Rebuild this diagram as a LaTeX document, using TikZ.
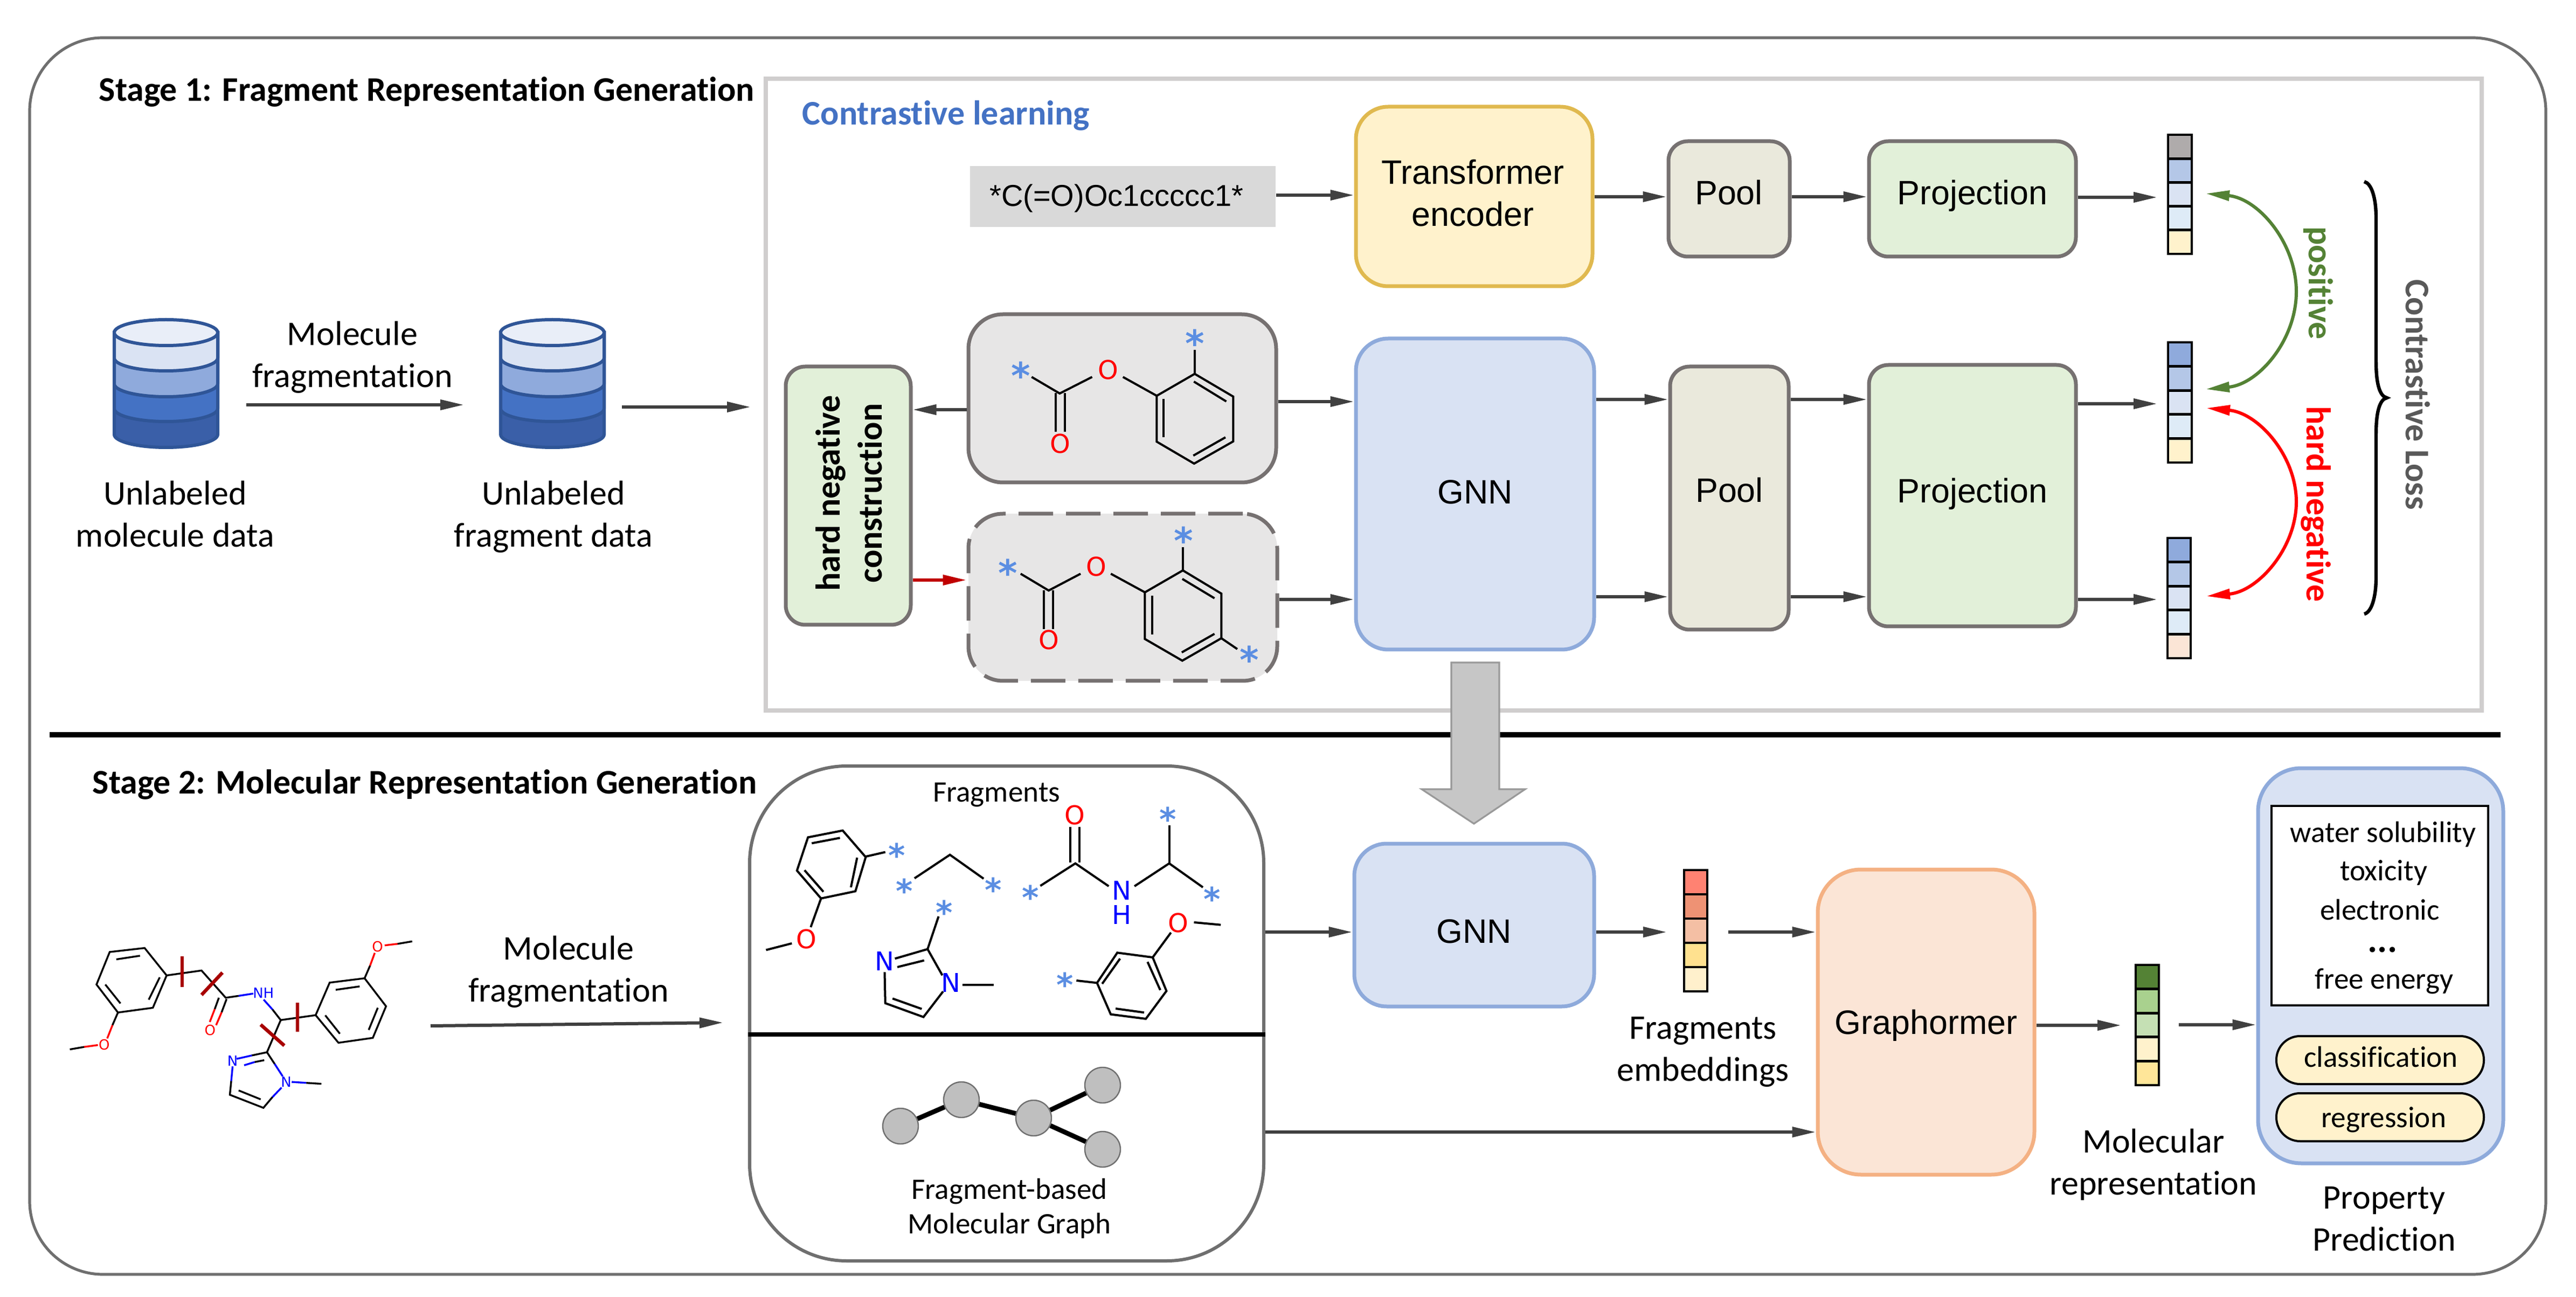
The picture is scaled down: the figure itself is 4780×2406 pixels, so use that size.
\documentclass[tikz,border=0pt]{standalone}
\usepackage{fontspec}
\setmainfont[Ligatures=CommonOff]{Carlito}
\newfontfamily\molfont{DejaVu Sans}
\newfontfamily\helv{Liberation Sans}
\usetikzlibrary{arrows.meta}
\definecolor{frameg}{HTML}{6F6F6F}
\definecolor{clbox}{HTML}{D0CECE}
\definecolor{boxg}{HTML}{767171}
\definecolor{fillg}{HTML}{E7E6E6}
\definecolor{smg}{HTML}{D9D9D9}
\definecolor{arrg}{HTML}{404040}
\definecolor{darkr}{HTML}{C00000}
\definecolor{starblue}{HTML}{5B8EE2}
\definecolor{cutred}{HTML}{A80000}
\definecolor{clblue}{HTML}{4472C4}
\definecolor{pgreen}{HTML}{548235}
\definecolor{lossg}{HTML}{595959}
\definecolor{cylline}{HTML}{2F5597}
\definecolor{E0B94F}{HTML}{E0B94F}\definecolor{FFF2CC}{HTML}{FFF2CC}
\definecolor{EAE8DA}{HTML}{EAE9DC}\definecolor{E2F0D9}{HTML}{E2F0D9}
\definecolor{8EAADB}{HTML}{8EAADB}\definecolor{D9E2F3}{HTML}{D9E2F3}
\definecolor{F4B183}{HTML}{F4B183}\definecolor{FBE5D6}{HTML}{FBE5D6}
\definecolor{BFBFBF}{HTML}{BFBFBF}\definecolor{AFABAB}{HTML}{AFABAB}
\definecolor{B4C7E7}{HTML}{B4C7E7}\definecolor{DAE3F3}{HTML}{DAE3F3}
\definecolor{DEEBF7}{HTML}{DEEBF7}\definecolor{8FAADC}{HTML}{8FAADC}
\definecolor{548235}{HTML}{548235}\definecolor{A9D18E}{HTML}{A9D18E}
\definecolor{C5E0B4}{HTML}{C5E0B4}\definecolor{FFE699}{HTML}{FFE699}
\definecolor{fr1}{HTML}{FF8272}\definecolor{fr2}{HTML}{EE9274}
\definecolor{fr3}{HTML}{F4BFA4}\definecolor{fr4}{HTML}{FFE18F}\definecolor{fr5}{HTML}{FFF0CC}
\definecolor{E9EEF8}{HTML}{E9EEF8}\definecolor{4472C4}{HTML}{4472C4}
\definecolor{3A5FA8}{HTML}{3A5FA8}
\newcounter{ac}
\tikzset{
  txt/.style={font=\fontsize{16}{19.5}\selectfont,align=center,inner sep=0pt,text=black},
  small/.style={font=\fontsize{13.8}{18}\selectfont,align=center,inner sep=0pt},
  head/.style={font=\bfseries\fontsize{16}{19}\selectfont,inner sep=0pt},
  btxt/.style={font=\bfseries\fontsize{16}{19.5}\selectfont,align=center,inner sep=0pt},
  arial/.style={font=\helv\fontsize{15.7}{19.5}\selectfont,align=center,inner sep=0pt},
  arr/.style={draw=arrg,line width=1.5pt,-{Triangle[length=11pt,width=4.6pt]}},
  redarr/.style={draw=darkr,line width=1.5pt,-{Triangle[length=11pt,width=4.6pt]}},
  carc/.style={line width=1.5pt,{Triangle[length=11pt,width=4.6pt]}-{Triangle[length=11pt,width=4.6pt]}},
  boxbase/.style={draw,line width=1.75pt,inner sep=0pt},
  transf/.style={boxbase,draw=E0B94F,fill=FFF2CC,rounded corners=15pt},
  poolb/.style={boxbase,draw=boxg,fill=EAE8DA,rounded corners=9pt},
  projb/.style={boxbase,draw=boxg,fill=E2F0D9,rounded corners=9pt},
  gnnb/.style={boxbase,draw=8EAADB,fill=D9E2F3,rounded corners=15pt},
  graphb/.style={boxbase,draw=F4B183,fill=FBE5D6,rounded corners=20pt},
  hardb/.style={boxbase,draw=boxg,fill=E2F0D9,rounded corners=9pt},
  molb/.style={boxbase,draw=boxg,fill=fillg,rounded corners=16pt},
  dashb/.style={molb,dash pattern=on 16pt off 6pt},
  bond/.style={line width=1pt,draw=black},
  rbond/.style={line width=1pt,draw=red},
  nbond/.style={line width=1pt,draw=blue},
  cut/.style={line width=1.6pt,draw=cutred},
  atom/.style={font=\molfont\fontsize{12}{12}\selectfont,inner sep=0pt},
  starn/.style={font=\molfont\bfseries\fontsize{17}{17}\selectfont,text=starblue,anchor=base,inner sep=0pt,yshift=-8.8pt},
  gdot/.style={circle,draw=frameg,fill=BFBFBF,line width=.6pt,minimum size=16.5pt,inner sep=0pt},
  pill/.style={draw=black,line width=1pt,fill=FFF2CC,rounded corners=11pt,inner sep=0pt},
}
% box: style, name, x1,y1,x2,y2, text
\newcommand\bx[7]{%
  \pgfmathsetmacro\bxw{(#5-#3)*0.25}\pgfmathsetmacro\bxh{(#6-#4)*0.25}%
  \pgfmathsetmacro\bxcx{(#5+#3)/2}\pgfmathsetmacro\bxcy{(#6+#4)/2}%
  \node[#1,minimum width=\bxw pt,minimum height=\bxh pt] (#2) at (\bxcx,\bxcy) {#7};}
\newcommand\atm[4]{\stepcounter{ac}\node[atom,text=#1] (at\theac) at (#2,#3) {#4};}
\newcommand\molstar[2]{\stepcounter{ac}\node[starn] (at\theac) at (#1,#2) {*};}
% vector: x1,y1,x2,y2, five colours (outer edges given)
\newcommand\vecbar[5]{%
  \pgfmathsetmacro\vh{(#4-#2-4)/5}%
  \foreach \c [count=\i from 0] in #5 {%
    \pgfmathsetmacro\ya{#2+2+\i*\vh}\pgfmathsetmacro\yb{#2+2+(\i+1)*\vh}%
    \draw[line width=1.2pt,black,fill=\c] (#1+2,\ya) rectangle (#3-2,\yb);}}
% cylinder
\newcommand\cyl[1]{%
  \foreach \yb/\c in {806/3A5FA8,758/4472C4,712/8FAADC,664/DAE3F3}{%
    \draw[line width=1.5pt,draw=cylline,fill=\c] (#1-96,617) -- (#1-96,\yb) arc[start angle=180,end angle=0,x radius=96,y radius=24] -- (#1+96,617) -- cycle;}%
  \draw[line width=1.5pt,draw=cylline,fill=E9EEF8] (#1,617) ellipse[x radius=96,y radius=24];}
\begin{document}
\begin{tikzpicture}[x=0.25pt,y=-0.25pt]
\useasboundingbox (0,0) rectangle (4780,2406);
\fill[white] (0,0) rectangle (4780,2406);
% frames
\draw[draw=frameg,line width=1.3pt,rounded corners=34pt] (55,70) rectangle (4724,2364);
\draw[draw=clbox,line width=2.2pt] (1421,146) rectangle (4605,1318);
\draw[black,line width=2.3pt] (92,1363) -- (4640,1363);
% headings
\node[head,anchor=west] (h1) at (183,170) {Stage 1: Fragment Representation Generation};
\node[head,anchor=west] (h2) at (171,1455) {Stage 2: Molecular Representation Generation};
\node[head,anchor=west,text=clblue] (h3) at (1488,214) {Contrastive learning};
% cylinders
\cyl{308}\cyl{1025}
\node[txt,anchor=base] (t1) at (325,1015) {Unlabeled\\molecule data};
\node[txt,anchor=base] (t2) at (1027,1015) {Unlabeled\\fragment data};
\node[txt] (t3) at (654,663) {Molecule\\fragmentation};
\coordinate (a1s) at (457,751);\coordinate (a1e) at (861,751);
\coordinate (a2s) at (1154,755);\coordinate (a2e) at (1393,755);
\draw[arr] (a1s) -- (a1e);
\draw[arr] (a2s) -- (a2e);
% upper boxes
\bx{fill=smg,inner sep=0pt}{smb}{1800}{308}{2367}{421}{}
\node[font=\helv\fontsize{14}{17}\selectfont,inner sep=0pt] (sm) at (2072,368) {*C(=O)Oc1ccccc1*};
\bx{transf}{tr}{2516}{198}{2955}{531}{}
\node[arial] (trt) at (2733,358) {Transformer\\encoder};
\bx{poolb}{p1}{3096}{262}{3321}{476}{}
\node[arial] (p1t) at (3208,357) {Pool};
\bx{projb}{pj1}{3468}{262}{3852}{476}{}
\node[arial] (pj1t) at (3660,363) {Projection};
\bx{gnnb}{g1}{2516}{628}{2958}{1205}{}
\node[arial] (g1t) at (2737,913) {GNN};
\bx{poolb}{p2}{3099}{680}{3319}{1168}{}
\node[arial] (p2t) at (3209,909) {Pool};
\bx{projb}{pj2}{3468}{677}{3852}{1162}{}
\node[arial] (pj2t) at (3660,916) {Projection};
\bx{hardb}{hn}{1458}{680}{1690}{1159}{}
\node[btxt,rotate=90] (hnt) at (1575,915) {hard negative\\construction};
\bx{molb}{m1}{1797}{583}{2368}{895}{}
\bx{dashb}{m2}{1797}{953}{2370}{1263}{}
\draw[arr] (smb.east |- 0,362) -- (tr.west |- 0,362);
\draw[arr] (tr.east |- 0,365) -- (p1.west |- 0,365);
\draw[arr] (p1.east |- 0,365) -- (pj1.west |- 0,365);
\draw[arr] (m1.east |- 0,745) -- (g1.west |- 0,745);
\draw[arr] (m2.east |- 0,1112) -- (g1.west |- 0,1112);
\draw[arr] (m1.west |- 0,760) -- (hn.east |- 0,760);
\draw[redarr] (hn.east |- 0,1076) -- (m2.west |- 0,1076);
\draw[arr] (g1.east |- 0,741) -- (p2.west |- 0,741);
\draw[arr] (g1.east |- 0,1107) -- (p2.west |- 0,1107);
\draw[arr] (p2.east |- 0,741) -- (pj2.west |- 0,741);
\draw[arr] (p2.east |- 0,1107) -- (pj2.west |- 0,1107);
% vectors
\vecbar{4021}{248}{4069}{473}{{AFABAB,B4C7E7,DAE3F3,DEEBF7,FFF2CC}}
\vecbar{4021}{633}{4069}{860}{{8FAADC,B4C7E7,DAE3F3,DEEBF7,FFF2CC}}
\vecbar{4020}{996}{4067}{1223}{{8FAADC,B4C7E7,DAE3F3,DEEBF7,FBE5D6}}
\coordinate (e1) at (4003,366);\coordinate (e2) at (4003,749);\coordinate (e3) at (4003,1112);
\draw[arr] (pj1.east |- e1) -- (e1);
\draw[arr] (pj2.east |- e2) -- (e2);
\draw[arr] (pj2.east |- e3) -- (e3);
% contrast arcs
\coordinate (gs) at (4093,359);\coordinate (ge) at (4093,722);
\coordinate (rs) at (4094,757);\coordinate (re) at (4094,1106);
\draw[carc,draw=pgreen] (gs) .. controls (4190,368) and (4261,450) .. (4261,541) .. controls (4261,632) and (4190,713) .. (ge);
\draw[carc,draw=red] (rs) .. controls (4190,766) and (4261,845) .. (4261,931) .. controls (4261,1017) and (4190,1097) .. (re);
\node[btxt,rotate=-90,text=pgreen] (tp) at (4302,525) {positive};
\node[btxt,rotate=-90,text=red] (th) at (4297,935) {hard negative};
\node[btxt,rotate=-90,text=lossg] (tl) at (4487,732) {Contrastive Loss};
\draw[black,line width=1.6pt] (4387,337) .. controls (4400,340) and (4409,365) .. (4409,405) -- (4409,670) .. controls (4409,710) and (4415,735) .. (4429,738) .. controls (4415,741) and (4409,766) .. (4409,806) -- (4409,1070) .. controls (4409,1110) and (4400,1136) .. (4387,1139);
% molecule 1
\begin{scope}[shift={(1700,550)},x=0.12755pt,y=-0.11962pt]
\molstar{381}{285}\molstar{1014}{160}
\atm{red}{698}{285}{O}\atm{red}{525}{570}{O}
\draw[bond] (420,312)--(522,376)--(640,312);
\draw[bond] (752,312)--(875,385);
\draw[bond] (875,385)--(1013,300)--(1153,388)--(1153,562)--(1011,648)--(875,563)--cycle;
\draw[bond] (900,397)--(900,545);\draw[bond] (1010,330)--(1128,407);\draw[bond] (1008,617)--(1125,546);
\draw[bond] (1013,298)--(1013,207);
\draw[bond] (508,375)--(508,525);\draw[bond] (541,375)--(541,525);
\end{scope}
% molecule 2
\begin{scope}[shift={(1700,550)},x=0.12755pt,y=-0.11962pt]
\molstar{334}{1050}\molstar{973}{925}\molstar{1212}{1387}
\atm{red}{656}{1047}{O}\atm{red}{483}{1332}{O}
\draw[bond] (380,1075)--(482,1140)--(598,1075);
\draw[bond] (708,1075)--(832,1147);
\draw[bond] (832,1147)--(970,1062)--(1110,1152)--(1110,1325)--(968,1412)--(832,1328)--cycle;
\draw[bond] (858,1160)--(858,1310);\draw[bond] (968,1095)--(1085,1170);\draw[bond] (966,1380)--(1085,1308);
\draw[bond] (970,1062)--(970,972);\draw[bond] (1110,1325)--(1168,1367);
\draw[bond] (465,1140)--(465,1290);\draw[bond] (498,1140)--(498,1290);
\end{scope}
% big arrow
\draw[draw=gray!80,fill=gray!45,line width=.8pt] (2693,1229) -- (2782,1229) -- (2782,1464) -- (2830,1464) -- (2735,1528) -- (2638,1464) -- (2693,1464) -- cycle;
% stage 2 molecule
\begin{scope}[shift={(100,1600)},x=0.12755pt,y=-0.08772pt,
  atom/.append style={font=\molfont\fontsize{6.5}{7}\selectfont},
  bond/.append style={line width=.85pt},rbond/.append style={line width=.85pt},nbond/.append style={line width=.85pt}]
\draw[bond] (410,597)--(330,452)--(203,473)--(155,645)--(233,793)--(360,768)--cycle;
\draw[bond] (385,607)--(345,725);\draw[bond] (313,493)--(227,512);\draw[bond] (187,645)--(242,745);
\draw[bond] (410,597)--(537,571)--(625,715)--(672,705);\draw[nbond] (672,705)--(725,693);
\atm{blue}{762}{690}{NH}
\draw[nbond] (763,725)--(795,777);\draw[bond] (795,777)--(825,833);
\draw[bond] (600,715)--(585,775);\draw[rbond] (585,775)--(567,843);
\draw[bond] (628,722)--(610,792);\draw[rbond] (610,792)--(590,860);
\atm{red}{568}{885}{O}
\draw[bond] (825,833)--(952,807);
\draw[bond] (952,807)--(1003,635)--(1130,612)--(1208,760)--(1160,927)--(1035,953)--cycle;
\draw[bond] (1025,673)--(1112,655);\draw[bond] (1178,768)--(1145,885);\draw[bond] (1040,905)--(987,808);
\draw[bond] (1130,612)--(1150,545);\draw[rbond] (1150,545)--(1167,478);
\atm{red}{1177}{445}{O}
\draw[rbond] (1203,438)--(1250,430);\draw[bond] (1250,430)--(1303,417);
\draw[bond] (233,793)--(213,860);\draw[rbond] (213,860)--(194,930);
\atm{red}{183}{962}{O}
\draw[rbond] (160,965)--(110,975);\draw[bond] (110,975)--(58,988);
\draw[bond] (825,833)--(775,1003);
\draw[bond] (775,1003)--(720,1020);\draw[nbond] (720,1020)--(665,1038);
\draw[bond] (765,1045)--(730,1055);\draw[nbond] (730,1055)--(692,1072);
\draw[bond] (775,1003)--(803,1065);\draw[nbond] (803,1065)--(832,1130);
\atm{blue}{650}{1048}{N}\atm{blue}{845}{1160}{N}
\draw[nbond] (865,1160)--(918,1165);\draw[bond] (918,1165)--(973,1170);
\draw[nbond] (828,1190)--(795,1240);\draw[bond] (795,1240)--(762,1297)--(640,1228)--(645,1155);
\draw[bond] (752,1252)--(672,1205);
\draw[nbond] (645,1155)--(650,1078);
\draw[cut] (466,495)--(466,657);\draw[cut] (613,582)--(537,700);
\draw[cut] (886,742)--(886,895);\draw[cut] (752,857)--(838,968);
\end{scope}
\node[txt] (t4) at (1055,1803) {Molecule\\fragmentation};
\coordinate (a4s) at (799,1903);\coordinate (a4e) at (1342,1897);
\draw[arr] (a4s) -- (a4e);
% fragments box
\node[draw=frameg,line width=1.5pt,rounded corners=45pt,minimum width=238.5pt,minimum height=229.5pt,inner sep=0pt] (fb) at (1868,1880) {};
\draw[black,line width=2.2pt] (fb.west |- 0,1919) -- (fb.east |- 0,1919);
\node[small] (t5) at (1849,1475) {Fragments};
\node[small,font=\fontsize{13.8}{16}\selectfont] (t6) at (1873,2242) {Fragment-based\\Molecular Graph};
\begin{scope}[shift={(1380,1420)},x=0.15944pt,y=-0.08333pt,
  starn/.append style={font=\molfont\bfseries\fontsize{15}{15}\selectfont,yshift=0.9pt}]
\draw[bond] (355,510)--(288,362)--(187,400)--(155,585)--(225,740)--(325,700)--cycle;
\draw[bond] (198,433)--(280,403);\draw[bond] (177,583)--(232,703);\draw[bond] (330,513)--(312,678);
\draw[bond] (355,507)--(412,482);\molstar{445}{470}
\draw[bond] (225,740)--(195,900);\atm{red}{182}{965}{O}\draw[bond] (140,990)--(65,1027);
\draw[bond] (497,628)--(600,497)--(698,630);\molstar{468}{668}\molstar{726}{662}
\molstar{835}{705}\draw[bond] (863,670)--(965,545)--(1062,672);
\atm{red}{963}{275}{O}\draw[bond] (950,342)--(950,540);\draw[bond] (977,342)--(977,540);
\atm{blue}{1100}{695}{N}\atm{blue}{1100}{832}{H}
\draw[bond] (1137,672)--(1238,545)--(1336,678);\draw[bond] (1238,333)--(1238,545);
\molstar{1235}{270}\molstar{1363}{715}
\molstar{583}{790}\draw[bond] (567,840)--(535,1022)--(440,1075);\draw[bond] (525,1085)--(447,1122);
\atm{blue}{410}{1090}{N}\draw[bond] (535,1022)--(578,1168);\atm{blue}{603}{1210}{N}
\draw[bond] (637,1222)--(728,1222);
\draw[bond] (580,1258)--(523,1400)--(412,1323)--(410,1150);\draw[bond] (518,1355)--(433,1297);
\molstar{935}{1190}\draw[bond] (968,1197)--(1028,1210);
\draw[bond] (1028,1210)--(1087,1042)--(1190,1068)--(1230,1255)--(1170,1410)--(1068,1385)--cycle;
\draw[bond] (1043,1215)--(1095,1075);\draw[bond] (1175,1093)--(1212,1250);\draw[bond] (1082,1353)--(1165,1375);
\draw[bond] (1190,1068)--(1243,930);\atm{red}{1265}{875}{O}\draw[bond] (1310,873)--(1388,887);
\end{scope}
% graph
\node[gdot] (d1) at (1671,2089) {};\node[gdot] (d2) at (1784,2040) {};\node[gdot] (d3) at (1918,2074) {};
\node[gdot] (d4) at (2046,2013) {};\node[gdot] (d5) at (2046,2132) {};
\draw[black,line width=2.2pt] (d1) -- (d2);\draw[black,line width=2.2pt] (d2) -- (d3);
\draw[black,line width=2.2pt] (d3) -- (d4);\draw[black,line width=2.2pt] (d3) -- (d5);
% stage 2 boxes
\bx{gnnb}{g2}{2513}{1565}{2958}{1867}{}
\node[arial] (g2t) at (2735,1728) {GNN};
\bx{graphb}{gr}{3373}{1613}{3775}{2179}{}
\node[arial] (grt) at (3574,1902) {Graphormer};
\vecbar{3123}{1612}{3170}{1841}{{fr1,fr2,fr3,fr4,fr5}}
\vecbar{3961}{1788}{4008}{2015}{{548235,A9D18E,C5E0B4,FFF2CC,FFE699}}
\node[txt] (t7) at (3160,1951) {Fragments\\embeddings};
\node[txt] (t8) at (3996,2160) {Molecular\\representation};
\coordinate (b1e) at (3093,1729);\coordinate (b2s) at (3207,1729);\coordinate (b3e) at (3936,1902);\coordinate (b4s) at (4043,1901);
\draw[arr] (fb.east |- 0,1729) -- (g2.west |- 0,1729);
\draw[arr] (g2.east |- b1e) -- (b1e);
\draw[arr] (b2s) -- (gr.west |- b2s);
\draw[arr] (fb.east |- 0,2100) -- (gr.west |- 0,2100);
\draw[arr] (gr.east |- b3e) -- (b3e);
% property
\bx{boxbase,draw=8EAADB,fill=D9E2F3,rounded corners=20pt}{pp}{4190}{1425}{4645}{2158}{}
\draw[arr] (b4s) -- (pp.west |- b4s);
\bx{draw=black,line width=1.2pt,fill=white,inner sep=0pt}{pw}{4215}{1495}{4617}{1865}{}
\node[small] (q1) at (4422,1548) {water solubility};
\node[small] (q2) at (4423,1619) {toxicity};
\node[small] (q3) at (4416,1688) {electronic};
\node[small,font=\bfseries\fontsize{17}{18}\selectfont] (q4) at (4421,1762) {...};
\node[small] (q5) at (4424,1820) {free energy};
\bx{pill}{c1}{4224}{1922}{4609}{2011}{}
\bx{pill}{c2}{4224}{2028}{4609}{2117}{}
\node[small] (c1t) at (4418,1961) {classification};
\node[small] (c2t) at (4423,2077) {regression};
\node[txt] (t9) at (4424,2261) {Property\\Prediction};
\end{tikzpicture}
\end{document}
